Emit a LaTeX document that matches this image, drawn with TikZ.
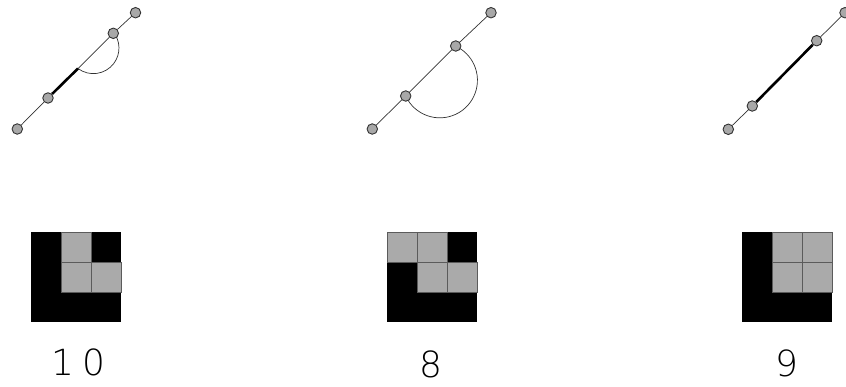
\documentclass[tikz,border=0pt]{standalone}
\usepackage{fontspec}
\newfontfamily\cadfont{DejaVu Sans ExtraLight}
\usetikzlibrary{backgrounds}
\definecolor{cellgray}{RGB}{170,170,170}
\definecolor{dotgray}{RGB}{168,168,168}
\definecolor{edgecol}{RGB}{50,50,50}
\begin{document}
\begin{tikzpicture}[x=1pt,y=-1pt,
 dot/.style={circle,draw=edgecol,fill=dotgray,line width=0.9pt,minimum size=10.5pt,inner sep=0pt},
 link/.style={draw=edgecol,line width=0.7pt},
 heavy/.style={draw=black,line width=2.6pt},
 cell/.style={fill=cellgray,draw=edgecol!80,line width=0.9pt},
 lbl/.style={font=\cadfont\fontsize{36}{36}\selectfont,inner sep=0pt}]
\useasboundingbox (0,0) rectangle (846,386);
% panel 1
\node[dot] (a1) at (17.3,129) {};
\node[dot] (a2) at (48,98) {};
\node[dot] (a3) at (113.3,33.3) {};
\node[dot] (a4) at (135.5,12.7) {};
\coordinate (p1) at (78,68.5);
\draw[link] (a1) -- (a2);
\draw[heavy] (a2) -- (p1);
\draw[link] (p1) -- (a3);
\draw[link] (a3) -- (a4);
\begin{pgfonlayer}{background}
\draw[link] (p1) arc[start angle=126.9,end angle=-40,radius=25.6];
\end{pgfonlayer}
% panel 2
\node[dot] (b1) at (372.3,129) {};
\node[dot] (b2) at (405.7,96) {};
\node[dot] (b3) at (455.7,46) {};
\node[dot] (b4) at (491,12.7) {};
\draw[link] (b1) -- (b2);
\draw[link] (b2) -- (b3);
\draw[link] (b3) -- (b4);
\begin{pgfonlayer}{background}
\draw[link] (b2.center) arc[start angle=155.2,end angle=-64.6,radius=37.6];
\end{pgfonlayer}
% panel 3
\node[dot] (c1) at (728.3,129.3) {};
\node[dot] (c2) at (752.3,106) {};
\node[dot] (c3) at (816.7,40.7) {};
\node[dot] (c4) at (845,12.7) {};
\draw[link] (c1) -- (c2);
\draw[heavy] (c2) -- (c3);
\draw[link] (c3) -- (c4);
% squares
\fill[black] (31,232) rectangle ++(90,90);
\draw[cell] (61,232) rectangle ++(30,30);
\draw[cell] (61,262) rectangle ++(30,30);
\draw[cell] (91,262) rectangle ++(30,30);
\fill[black] (387,232) rectangle ++(90,90);
\draw[cell] (387,232) rectangle ++(30,30);
\draw[cell] (417,232) rectangle ++(30,30);
\draw[cell] (417,262) rectangle ++(30,30);
\draw[cell] (447,262) rectangle ++(30,30);
\fill[black] (742,232) rectangle ++(90,90);
\draw[cell] (772,232) rectangle ++(30,30);
\draw[cell] (802,232) rectangle ++(30,30);
\draw[cell] (772,262) rectangle ++(30,30);
\draw[cell] (802,262) rectangle ++(30,30);
% labels
\node[lbl] (t1) at (78.5,362) {1\hspace{8pt}0};
\node[lbl] (t2) at (431,364) {8};
\node[lbl] (t3) at (787,363.5) {9};
\end{tikzpicture}
\end{document}
